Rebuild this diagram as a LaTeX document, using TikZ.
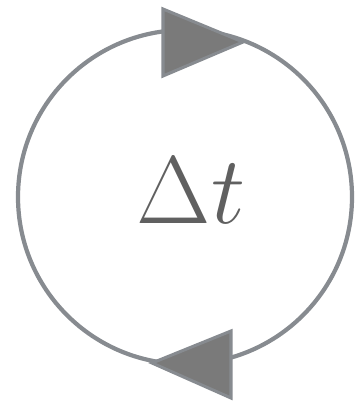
\documentclass[tikz,border=0pt]{standalone}

\definecolor{ringgray}{HTML}{878B90}
\definecolor{headgray}{HTML}{7A7A7A}
\definecolor{labgray}{HTML}{606060}

\begin{document}
\begin{tikzpicture}[
  x=0.03cm, y=-0.03cm,
  ring/.style={draw=ringgray, line width=3.6pt},
  head/.style={draw=ringgray, fill=headgray, line width=2.6pt, line join=miter},
  lab/.style={text=labgray, font=\Huge, scale=3.3, inner sep=0pt}
]
\useasboundingbox (0,0) rectangle (354,401);

% loop
\draw[ring] (185,197) circle (167);

% arrow heads, clockwise
\filldraw[head] (163,9) -- (243,42) -- (163,76) -- cycle;
\filldraw[head] (231,331) -- (152,363) -- (231,398) -- cycle;

\node[lab, anchor=base] (dt) at (191,223) {$\Delta t$};
\end{tikzpicture}
\end{document}
